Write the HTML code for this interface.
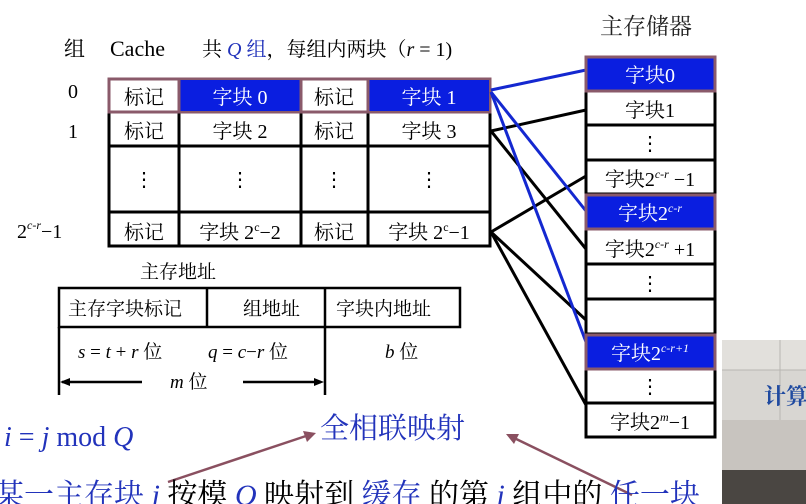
<!DOCTYPE html>
<html><head><meta charset="utf-8"><style>
html,body{margin:0;padding:0;background:#fff;width:806px;height:504px;overflow:hidden}
svg{display:block}
text{font-family:"Liberation Serif","Noto Serif CJK SC","Noto Sans CJK SC",serif}
</style></head><body>
<svg width="806" height="504" viewBox="0 0 806 504" xmlns="http://www.w3.org/2000/svg">
<text x="64" y="56" font-size="21">组</text>
<text x="110" y="56" font-size="22">Cache</text>
<text x="202" y="56" font-size="20">共 <tspan fill="#2233bb" font-style="italic">Q</tspan> <tspan fill="#2233bb">组</tspan>，每组内两块（<tspan font-style="italic">r</tspan> = 1)</text>
<text x="600" y="34" font-size="23" fill="#222">主存储器</text>
<text x="68" y="98" font-size="20">0</text>
<text x="68" y="138" font-size="20">1</text>
<text x="17" y="238" font-size="20">2<tspan font-size="12" dy="-9" font-style="italic">c-r</tspan><tspan dy="9">−1</tspan></text>
<g stroke="#000" stroke-width="3" fill="#fff">
<rect x="109" y="112" width="381" height="134"/>
<line x1="109" y1="146" x2="490" y2="146"/>
<line x1="109" y1="212" x2="490" y2="212"/>
<line x1="179" y1="112" x2="179" y2="246"/>
<line x1="301" y1="112" x2="301" y2="246"/>
<line x1="368" y1="112" x2="368" y2="246"/>
</g>
<rect x="109" y="79" width="381" height="33" fill="#fff" stroke="#8a5a6a" stroke-width="3"/>
<rect x="180" y="80" width="120" height="31" fill="#0a1ee0"/>
<rect x="369" y="80" width="120" height="31" fill="#0a1ee0"/>
<line x1="179" y1="79" x2="179" y2="112" stroke="#8a5a6a" stroke-width="3"/>
<line x1="301" y1="79" x2="301" y2="112" stroke="#8a5a6a" stroke-width="3"/>
<line x1="368" y1="79" x2="368" y2="112" stroke="#8a5a6a" stroke-width="3"/>
<g font-size="20" text-anchor="middle">
<text x="144" y="104">标记</text><text x="240" y="104" fill="#fff">字块 0</text><text x="334" y="104">标记</text><text x="429" y="104" fill="#fff">字块 1</text>
<text x="144" y="138">标记</text><text x="240" y="138">字块 2</text><text x="334" y="138">标记</text><text x="429" y="138">字块 3</text>
<text x="144" y="186">⋮</text><text x="240" y="186">⋮</text><text x="334" y="186">⋮</text><text x="429" y="186">⋮</text>
<text x="144" y="239">标记</text><text x="240" y="239">字块 2<tspan font-size="12" dy="-8">c</tspan><tspan dy="8">−2</tspan></text><text x="334" y="239">标记</text><text x="429" y="239">字块 2<tspan font-size="12" dy="-8">c</tspan><tspan dy="8">−1</tspan></text>
</g>
<g stroke="#000" stroke-width="3">
<line x1="491" y1="131" x2="586" y2="110"/>
<line x1="491" y1="131" x2="586" y2="249"/>
<line x1="491" y1="232" x2="586" y2="176"/>
<line x1="491" y1="232" x2="586" y2="320"/>
<line x1="491" y1="232" x2="586" y2="405"/>
</g>
<g stroke="#1428d0" stroke-width="3">
<line x1="491" y1="90" x2="586" y2="70"/>
<line x1="491" y1="92" x2="586" y2="211"/>
<line x1="491" y1="92" x2="586" y2="342"/>
</g>
<g stroke="#000" stroke-width="3" fill="#fff">
<rect x="586" y="57" width="129" height="380"/>
<line x1="586" y1="125" x2="715" y2="125"/>
<line x1="586" y1="160" x2="715" y2="160"/>
<line x1="586" y1="194" x2="715" y2="194"/>
<line x1="586" y1="264" x2="715" y2="264"/>
<line x1="586" y1="299" x2="715" y2="299"/>
<line x1="586" y1="334" x2="715" y2="334"/>
<line x1="586" y1="403" x2="715" y2="403"/>
</g>
<g stroke="#8a5a6a" stroke-width="3" fill="#0a1ee0">
<rect x="586" y="57" width="129" height="34"/>
<rect x="586" y="195" width="129" height="34"/>
<rect x="586" y="335" width="129" height="34"/>
</g>
<g font-size="20" text-anchor="middle">
<text x="650" y="82" fill="#fff">字块0</text>
<text x="650" y="117">字块1</text>
<text x="650" y="150">⋮</text>
<text x="650" y="186">字块2<tspan font-size="12" dy="-8" font-style="italic">c-r</tspan><tspan dy="8"> −1</tspan></text>
<text x="650" y="220" fill="#fff">字块2<tspan font-size="12" dy="-8" font-style="italic">c-r</tspan></text>
<text x="650" y="256">字块2<tspan font-size="12" dy="-8" font-style="italic">c-r</tspan><tspan dy="8"> +1</tspan></text>
<text x="650" y="290">⋮</text>
<text x="650" y="360" fill="#fff">字块2<tspan font-size="12" dy="-8" font-style="italic">c-r+1</tspan></text>
<text x="650" y="393">⋮</text>
<text x="650" y="429">字块2<tspan font-size="12" dy="-8" font-style="italic">m</tspan><tspan dy="8">−1</tspan></text>
</g>
<text x="140" y="278" font-size="19">主存地址</text>
<g stroke="#000" stroke-width="2.5" fill="none">
<rect x="59" y="288" width="401" height="39"/>
<line x1="207" y1="288" x2="207" y2="327"/>
<line x1="325" y1="288" x2="325" y2="395"/>
<line x1="59" y1="327" x2="59" y2="395"/>
<line x1="62" y1="382" x2="142" y2="382"/>
<line x1="243" y1="382" x2="321" y2="382"/>
</g>
<polygon points="60,382 70,378 70,386" fill="#000"/>
<polygon points="324,382 314,378 314,386" fill="#000"/>
<g font-size="19">
<text x="68" y="315">主存字块标记</text>
<text x="243" y="315">组地址</text>
<text x="336" y="315">字块内地址</text>
<text x="78" y="358"><tspan font-style="italic">s</tspan> = <tspan font-style="italic">t</tspan> + <tspan font-style="italic">r</tspan>  位</text>
<text x="208" y="358"><tspan font-style="italic">q</tspan> = <tspan font-style="italic">c</tspan>−<tspan font-style="italic">r</tspan> 位</text>
<text x="385" y="358"><tspan font-style="italic">b</tspan> 位</text>
<text x="170" y="388"><tspan font-style="italic">m</tspan> 位</text>
</g>
<text x="4" y="446" font-size="28" fill="#2233bb"><tspan font-style="italic">i</tspan> = <tspan font-style="italic">j</tspan> mod <tspan font-style="italic">Q</tspan></text>
<text x="320" y="438" font-size="29" fill="#2233bb">全相联映射</text>
<g stroke="#8a5060" stroke-width="2.5">
<line x1="168" y1="482" x2="312" y2="434"/>
<line x1="632" y1="495" x2="510" y2="436"/>
</g>
<polygon points="316,433 303,431 307,442" fill="#8a5060"/>
<polygon points="506,434 519,434 514,444" fill="#8a5060"/>
<text x="-6" y="505" font-size="30" fill="#2233bb">某一主存块 <tspan font-style="italic">j</tspan> <tspan fill="#000">按模</tspan> <tspan font-style="italic">Q</tspan> <tspan fill="#000">映射到</tspan> 缓存 <tspan fill="#000">的第</tspan> <tspan font-style="italic">i</tspan> <tspan fill="#000">组中的</tspan> 任一块</text>
<rect x="722" y="340" width="84" height="164" fill="#d8d6d2"/>
<rect x="722" y="340" width="84" height="30" fill="#e2e0dc"/>
<line x1="722" y1="370" x2="806" y2="370" stroke="#b8b6b2"/>
<line x1="780" y1="340" x2="780" y2="420" stroke="#b8b6b2"/>
<rect x="722" y="420" width="84" height="50" fill="#c8c4bf"/>
<rect x="722" y="470" width="84" height="34" fill="#4a4642"/>
<text x="764" y="404" font-size="22" font-weight="bold" fill="#1f4aa0" font-family="Noto Sans CJK SC, sans-serif">计算</text>
</svg>
</body></html>
